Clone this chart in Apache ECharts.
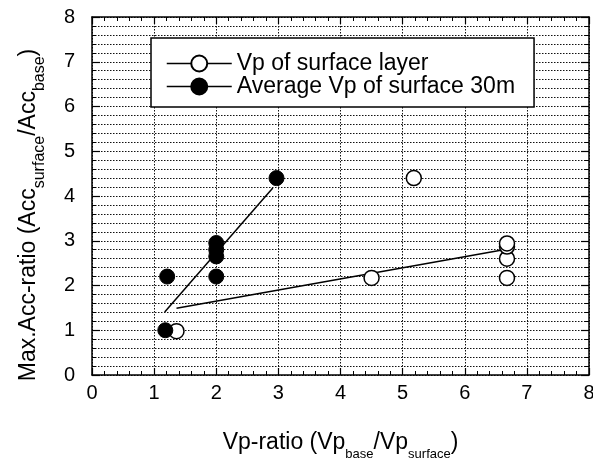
<!DOCTYPE html>
<html>
<head>
<meta charset="utf-8">
<script src="https://cdn.jsdelivr.net/npm/echarts@6/dist/echarts.min.js"></script>
<style>
  html, body { margin: 0; padding: 0; background: #fff; }
  #chart { width: 593px; height: 460px; }
</style>
</head>
<body>
<div id="chart"></div>
<script>
// Measured points: [Vp-ratio, Max. Acc-ratio]
const surfaceLayerPts = [
  [1.36, 0.98], [4.50, 2.17], [5.18, 4.40],
  [6.68, 2.17], [6.68, 2.60], [6.68, 2.87], [6.68, 2.94]
];
const avg30mPts = [
  [1.18, 1.00], [1.21, 2.20], [2.00, 2.20],
  [2.00, 2.65], [2.00, 2.80], [2.00, 2.95], [2.97, 4.40]
];
// Fitted trend lines (start and end points)
const surfaceLayerFit = [[1.36, 1.49], [6.58, 2.79]];
const avg30mFit = [[1.17, 1.41], [2.91, 4.18]];

const seriesNames = ['Vp of surface layer', 'Average Vp of surface 30m'];
const tickMin = 0, tickMax = 8, tickStep = 1;

const FONT = '"Liberation Sans", Arial, Helvetica, sans-serif';
const dots = { color: '#111', width: 1, type: [1.5, 1.5] };

// axis titles with subscripts: main text on top of the line, subscript pushed down by padding
const xTitleRich = {
  m: { fontSize: 23, lineHeight: 24, verticalAlign: 'top', fontFamily: FONT, color: '#000' },
  s: { fontSize: 13, verticalAlign: 'top', padding: [17, 0, 0, 0], fontFamily: FONT, color: '#000' }
};
const yTitleRich = {
  m: { fontSize: 23, lineHeight: 24, verticalAlign: 'top', fontFamily: FONT, color: '#000' },
  s: { fontSize: 16, verticalAlign: 'top', padding: [15, 0, 0, 0], fontFamily: FONT, color: '#000' }
};

function frameAxis(extra) {
  return Object.assign({
    type: 'value', min: tickMin, max: tickMax, interval: tickStep,
    axisLine: { show: true, onZero: false, lineStyle: { color: '#000', width: 1.5 } },
    axisTick: { show: true, inside: true, length: 7, lineStyle: { color: '#000', width: 1.2 } },
    minorTick: { show: true, splitNumber: 5, length: 4, lineStyle: { color: '#000', width: 1 } },
    axisLabel: { show: false },
    splitLine: { show: false }
  }, extra);
}

const chart = echarts.init(document.getElementById('chart'), null, { renderer: 'canvas' });
chart.setOption({
  animation: false,
  backgroundColor: '#fff',
  grid: { left: 92, right: 4, top: 17, bottom: 85, containLabel: false, outerBoundsMode: 'none' },
  legend: {
    orient: 'vertical', left: 151, top: 38,
    padding: [14, 19, 9, 15],
    itemWidth: 65, itemHeight: 20, itemGap: 0,
    borderColor: '#000', borderWidth: 1.5, backgroundColor: '#fff',
    textStyle: { fontSize: 23, lineHeight: 22, color: '#000', fontFamily: FONT },
    lineStyle: { color: '#000', width: 1.5, opacity: 1 },
    data: seriesNames,
    selectedMode: false
  },
  xAxis: [
    frameAxis({
      position: 'bottom',
      axisLabel: { show: true, fontSize: 20, color: '#000', fontFamily: FONT, margin: 8 },
      splitLine: { show: true, lineStyle: dots },
      name: '{m|Vp-ratio (Vp}{s|base}{m|/Vp}{s|surface}{m|)}',
      nameLocation: 'middle', nameGap: 56,
      nameTextStyle: { rich: xTitleRich }
    }),
    frameAxis({ position: 'top' })
  ],
  yAxis: [
    frameAxis({
      position: 'left',
      axisTick: { show: true, inside: true, length: 8, lineStyle: { color: '#000', width: 1.2 } },
      axisLabel: { show: true, fontSize: 20, color: '#000', fontFamily: FONT, margin: 17 },
      splitLine: { show: true, lineStyle: dots },
      minorSplitLine: { show: true, lineStyle: dots },
      name: '{m|Max.Acc-ratio (Acc}{s|surface}{m|/Acc}{s|base}{m|)}',
      nameLocation: 'middle', nameGap: 44,
      nameTextStyle: { rich: yTitleRich, padding: [0, 38, 0, 0] }
    }),
    frameAxis({
      position: 'right',
      axisTick: { show: true, inside: true, length: 8, lineStyle: { color: '#000', width: 1.2 } }
    })
  ],
  series: [
    {
      type: 'line', data: surfaceLayerFit, symbol: 'none', silent: true, z: 2,
      lineStyle: { color: '#000', width: 1.5 }
    },
    {
      type: 'line', data: avg30mFit, symbol: 'none', silent: true, z: 2,
      lineStyle: { color: '#000', width: 1.5 }
    },
    {
      name: seriesNames[0], type: 'line', data: surfaceLayerPts, z: 3,
      symbol: 'circle', symbolSize: 15,
      itemStyle: { color: '#fff', borderColor: '#000', borderWidth: 1.5 },
      lineStyle: { width: 0, opacity: 0 }
    },
    {
      name: seriesNames[1], type: 'line', data: avg30mPts, z: 4,
      symbol: 'circle', symbolSize: 15,
      itemStyle: { color: '#000', borderColor: '#000', borderWidth: 1 },
      lineStyle: { width: 0, opacity: 0 }
    }
  ]
});
</script>
</body>
</html>
